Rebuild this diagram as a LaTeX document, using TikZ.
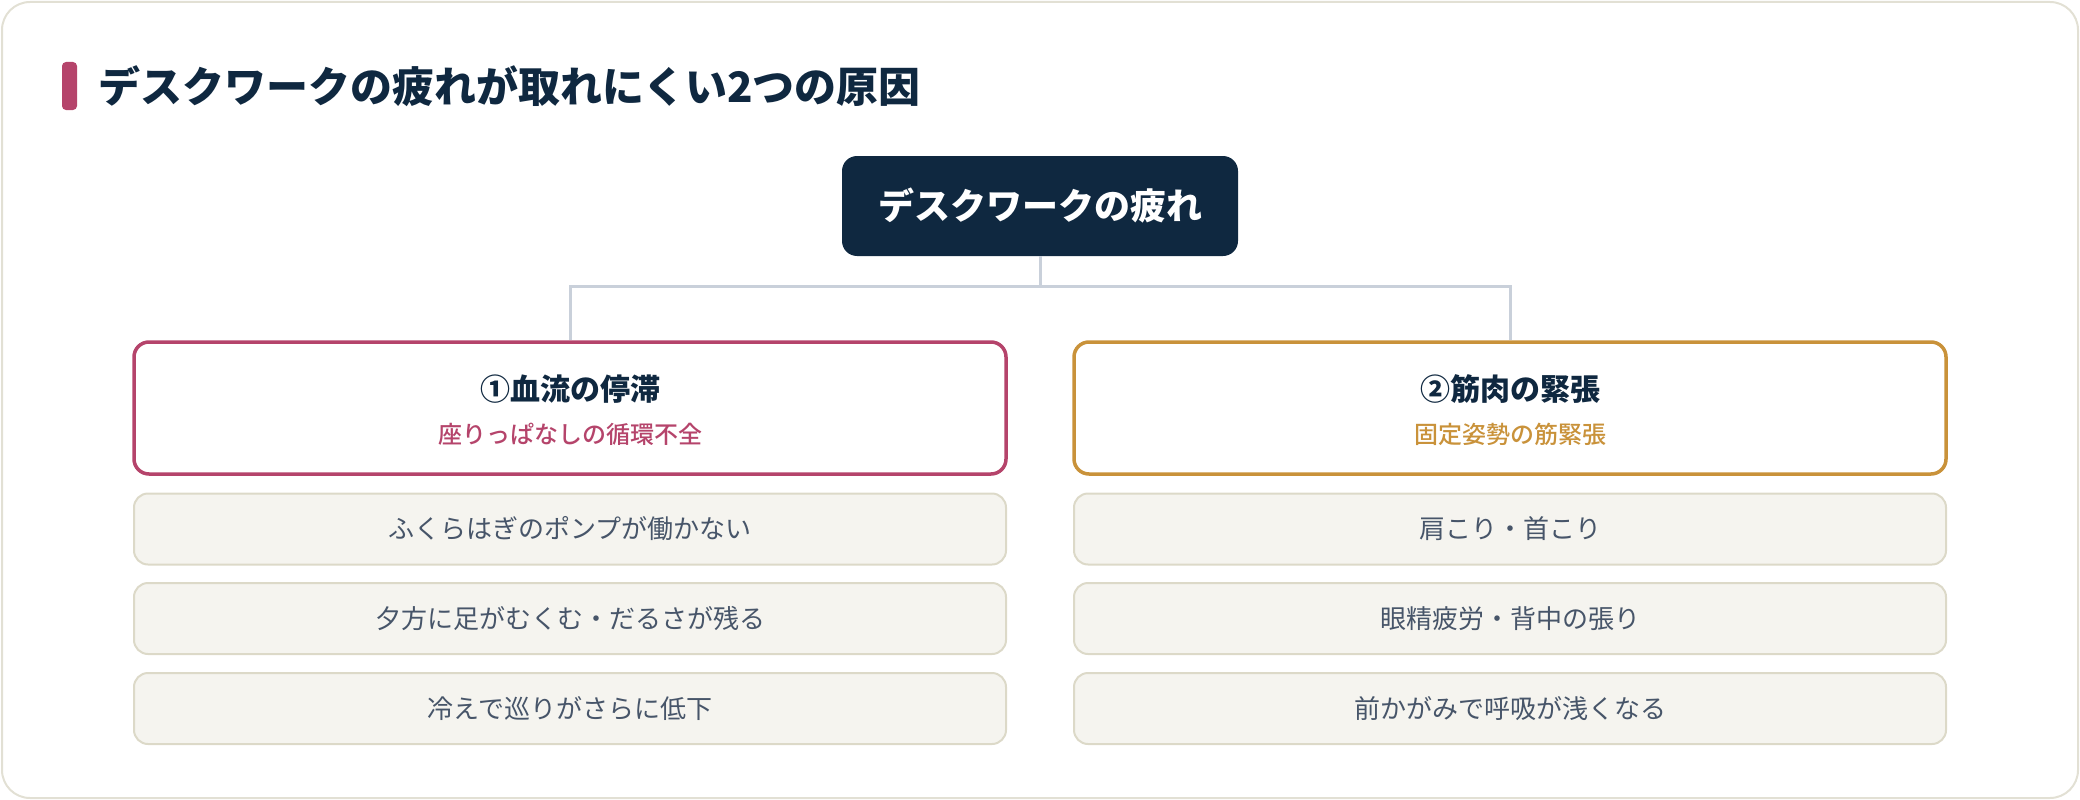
\documentclass[tikz,border=0pt]{standalone}
\usepackage{fontspec}
\setmainfont{Noto Sans CJK JP}
\newfontfamily\medfont{Noto Sans CJK JP Medium}
\definecolor{navy}{HTML}{0F2840}
\definecolor{rose}{HTML}{B5446B}
\definecolor{gold}{HTML}{C9923A}
\definecolor{framec}{HTML}{E2E0D4}
\definecolor{itemfill}{HTML}{F5F4EF}
\definecolor{itemdraw}{HTML}{DCD9C8}
\definecolor{itemtext}{HTML}{475569}
\definecolor{linkc}{HTML}{C9D0DA}
\tikzset{
  topbox/.style={rectangle, rounded corners=15pt, fill=navy, text=white, minimum width=396pt, minimum height=100pt, font=\fontsize{36}{42}\selectfont\bfseries},
  headbox/.style={rectangle, rounded corners=15pt, fill=white, line width=3.5pt, minimum width=872pt, minimum height=132pt},
  itembox/.style={rectangle, rounded corners=14pt, fill=itemfill, draw=itemdraw, line width=2pt, minimum width=872pt, minimum height=71pt, text=itemtext, font=\fontsize{26}{30}\selectfont},
  headtitle/.style={text=navy, font=\fontsize{30}{36}\selectfont\bfseries, inner sep=0pt},
  headsub/.style={font=\medfont\fontsize{24}{28}\selectfont, inner sep=0pt},
  link/.style={draw=linkc, line width=3pt}
}
\begin{document}
\begin{tikzpicture}[x=1pt,y=-1pt]
\useasboundingbox (0,0) rectangle (2080,800);
\draw[draw=framec, line width=2pt, rounded corners=28pt] (2,2) rectangle (2078,798);
\fill[rose, rounded corners=4pt] (62,62) rectangle (77,110);
\node[anchor=west, text=navy, font=\fontsize{42}{50}\selectfont\bfseries, inner sep=0pt] (title) at (98,86) {デスクワークの疲れが取れにくい2つの原因};
\node[topbox] (top) at (1040,206) {デスクワークの疲れ};
\node[headbox, draw=rose] (lh) at (570,408) {};
\node[headbox, draw=gold] (rh) at (1510,408) {};
\draw[link] (top.south) -- ++(0,30) -| (lh.north);
\draw[link] (top.south) -- ++(0,30) -| (rh.north);
\node[headtitle] (lht) at (570,389) {①血流の停滞};
\node[headsub, text=rose] (lhs) at (570,434) {座りっぱなしの循環不全};
\node[headtitle] (rht) at (1510,389) {②筋肉の緊張};
\node[headsub, text=gold] (rhs) at (1510,434) {固定姿勢の筋緊張};
\node[itembox] (l1) at (570,529) {ふくらはぎのポンプが働かない};
\node[itembox] (l2) at (570,618.5) {夕方に足がむくむ・だるさが残る};
\node[itembox] (l3) at (570,708.5) {冷えで巡りがさらに低下};
\node[itembox] (r1) at (1510,529) {肩こり・首こり};
\node[itembox] (r2) at (1510,618.5) {眼精疲労・背中の張り};
\node[itembox] (r3) at (1510,708.5) {前かがみで呼吸が浅くなる};
\end{tikzpicture}
\end{document}
